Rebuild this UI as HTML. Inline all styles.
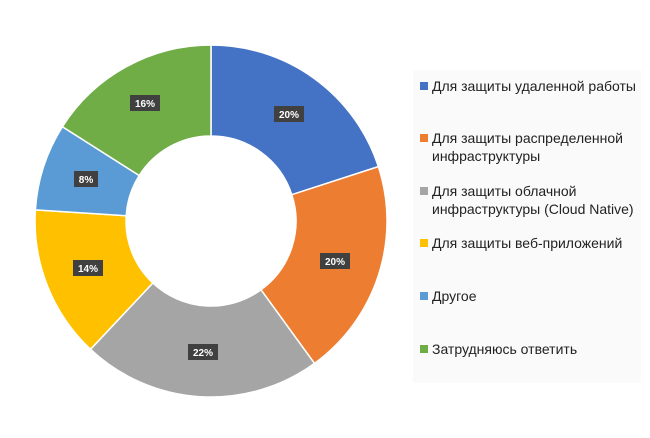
<!DOCTYPE html>
<html><head><meta charset="utf-8"><style>
body{margin:0;background:#fff;width:650px;height:438px;overflow:hidden;font-family:"Liberation Sans","DejaVu Sans",sans-serif}
</style></head><body>
<svg width="650" height="438" xmlns="http://www.w3.org/2000/svg" style="position:absolute;left:0;top:0">
<g stroke="#fff" stroke-width="1.5">
<path d="M211,45 A176,176 0 0 1 378.4,166.6 L291.8,194.7 A85,85 0 0 0 211,136 Z" fill="#4472C4"/>
<path d="M378.4,166.6 A176,176 0 0 1 314.5,363.4 L261.0,289.8 A85,85 0 0 0 291.8,194.7 Z" fill="#ED7D31"/>
<path d="M314.5,363.4 A176,176 0 0 1 90.5,349.3 L152.8,283.0 A85,85 0 0 0 261.0,289.8 Z" fill="#A5A5A5"/>
<path d="M90.5,349.3 A176,176 0 0 1 35.4,209.9 L126.2,215.7 A85,85 0 0 0 152.8,283.0 Z" fill="#FFC000"/>
<path d="M35.4,209.9 A176,176 0 0 1 62.4,126.7 L139.2,175.5 A85,85 0 0 0 126.2,215.7 Z" fill="#5B9BD5"/>
<path d="M62.4,126.7 A176,176 0 0 1 211,45 L211,136 A85,85 0 0 0 139.2,175.5 Z" fill="#70AD47"/>
</g>
<g font-size="10" font-weight="bold" fill="#fff" text-anchor="middle">
<rect x="274" y="106" width="30" height="16" fill="#404040"/><text x="289" y="118">20%</text>
<rect x="320" y="253" width="30" height="16" fill="#404040"/><text x="335" y="265">20%</text>
<rect x="188" y="344" width="30" height="16" fill="#404040"/><text x="203" y="356">22%</text>
<rect x="73" y="260" width="30" height="16" fill="#404040"/><text x="88" y="272">14%</text>
<rect x="74" y="171" width="24" height="16" fill="#404040"/><text x="86" y="183">8%</text>
<rect x="130" y="95" width="30" height="16" fill="#404040"/><text x="145" y="107">16%</text>
</g>
<rect x="413" y="70" width="228" height="313" fill="#fafafa"/>
<g font-size="14" fill="#222">
<rect x="420" y="82" width="8" height="8" fill="#4472C4"/><text x="432" y="91">Для защиты удаленной работы</text>
<rect x="420" y="134" width="8" height="8" fill="#ED7D31"/><text x="432" y="143">Для защиты распределенной</text><text x="432" y="161">инфраструктуры</text>
<rect x="420" y="187" width="8" height="8" fill="#A5A5A5"/><text x="432" y="196">Для защиты облачной</text><text x="432" y="214">инфраструктуры (Cloud Native)</text>
<rect x="420" y="239" width="8" height="8" fill="#FFC000"/><text x="432" y="248">Для защиты веб-приложений</text>
<rect x="420" y="292" width="8" height="8" fill="#5B9BD5"/><text x="432" y="301">Другое</text>
<rect x="420" y="345" width="8" height="8" fill="#70AD47"/><text x="432" y="354">Затрудняюсь ответить</text>
</g>
</svg>
</body></html>
